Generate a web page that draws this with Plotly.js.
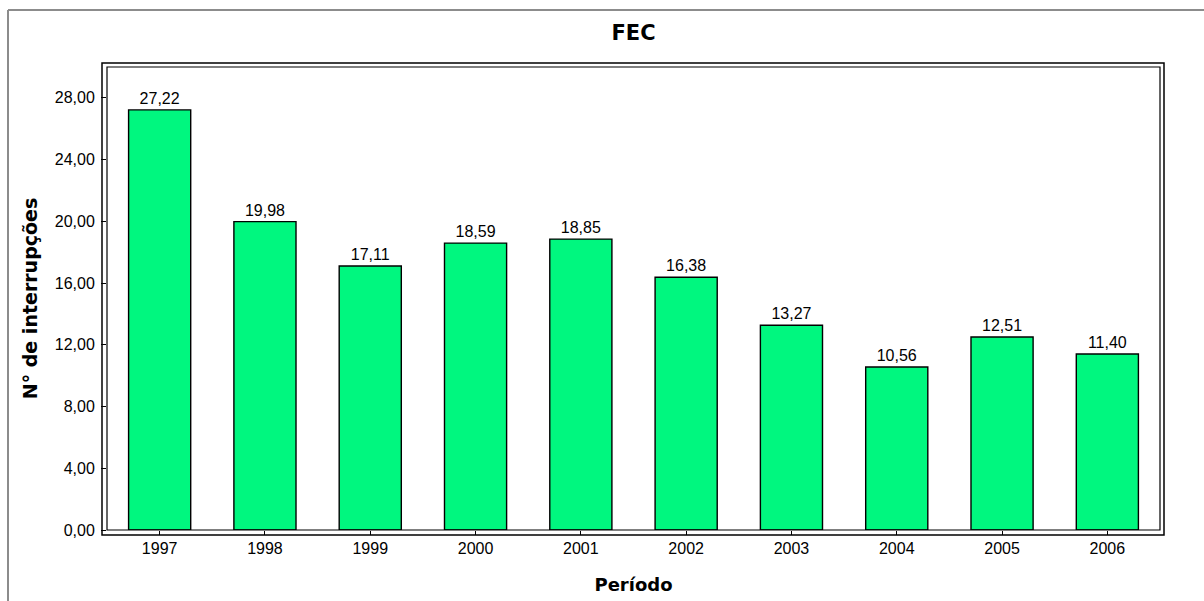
<!DOCTYPE html>
<html>
<head>
<meta charset="utf-8">
<script src="https://cdn.plot.ly/plotly-3.0.1.min.js"></script>
<style>
  html, body { margin: 0; padding: 0; background: #ffffff; }
  #chart { width: 1204px; height: 601px; }
</style>
</head>
<body>
<div id="chart"></div>
<script>
const categories = ['1997', '1998', '1999', '2000', '2001', '2002', '2003', '2004', '2005', '2006'];
const fecValues = [27.22, 19.98, 17.11, 18.59, 18.85, 16.38, 13.27, 10.56, 12.51, 11.40];
const yTickValues = [0, 4, 8, 12, 16, 20, 24, 28];

const trace = {
  type: 'bar',
  x: categories,
  y: fecValues,
  marker: { color: '#00f77f', line: { color: '#000000', width: 1.4 } },
  texttemplate: '%{y:.2f}',
  textposition: 'outside',
  textfont: { family: 'Liberation Sans, Arial, sans-serif', size: 16, color: '#000000' },
  cliponaxis: false,
  hoverinfo: 'x+y'
};

// pixel -> paper helpers (plot area: x 107..1160, y 67..530)
const L = 107, R = 1160, T = 67, B = 530;
const px = v => (v - L) / (R - L);
const py = v => (B - v) / (B - T);

const layout = {
  width: 1204,
  height: 601,
  margin: { l: L, r: 1204 - R, t: T, b: 601 - B },
  paper_bgcolor: '#ffffff',
  plot_bgcolor: '#ffffff',
  separators: ',.',
  bargap: 0.41,
  showlegend: false,
  title: {
    text: '<b>FEC</b>',
    font: { family: 'DejaVu Sans, Verdana, sans-serif', size: 21, color: '#000000' },
    x: 0.5, xanchor: 'center', xref: 'paper',
    y: 1 - 33 / 601, yanchor: 'middle', yref: 'container'
  },
  xaxis: {
    type: 'category',
    range: [-0.5, 9.5],
    showgrid: false,
    zeroline: false,
    showline: false,
    ticks: 'outside',
    ticklen: 4,
    tickcolor: '#000000',
    tickfont: { family: 'Liberation Sans, Arial, sans-serif', size: 16, color: '#000000' },
    title: {
      text: '<b>Período</b>',
      font: { family: 'DejaVu Sans, Verdana, sans-serif', size: 18, color: '#000000' },
      standoff: 22
    },
    fixedrange: true
  },
  yaxis: {
    range: [0, 30],
    tickvals: yTickValues,
    tickformat: '.2f',
    showgrid: false,
    zeroline: false,
    showline: false,
    ticks: 'outside',
    ticklen: 5,
    tickcolor: '#000000',
    ticklabelstandoff: 3,
    tickfont: { family: 'Liberation Sans, Arial, sans-serif', size: 16, color: '#000000' },
    title: {
      text: '<b>N° de interrupções</b>',
      font: { family: 'DejaVu Sans, Verdana, sans-serif', size: 19, color: '#000000' },
      standoff: 12
    },
    fixedrange: true
  },
  shapes: [
    // outer frame (wall depth)
    { type: 'rect', xref: 'paper', yref: 'paper', x0: px(102), x1: px(1164), y0: py(535), y1: py(63),
      line: { color: '#000000', width: 1.5 }, fillcolor: 'rgba(0,0,0,0)', layer: 'below' },
    // inner frame
    { type: 'rect', xref: 'paper', yref: 'paper', x0: 0, x1: 1, y0: 0, y1: 1,
      line: { color: '#000000', width: 1.2 }, fillcolor: 'rgba(0,0,0,0)', layer: 'above' },
    // page border (left & top)
    { type: 'line', xref: 'paper', yref: 'paper', x0: px(8), x1: px(8), y0: py(601), y1: py(10),
      line: { color: '#8c8c8c', width: 2 } },
    { type: 'line', xref: 'paper', yref: 'paper', x0: px(8), x1: px(1204), y0: py(10), y1: py(10),
      line: { color: '#8c8c8c', width: 2 } }
  ]
};

Plotly.newPlot('chart', [trace], layout, { displayModeBar: false, staticPlot: true });
</script>
</body>
</html>
